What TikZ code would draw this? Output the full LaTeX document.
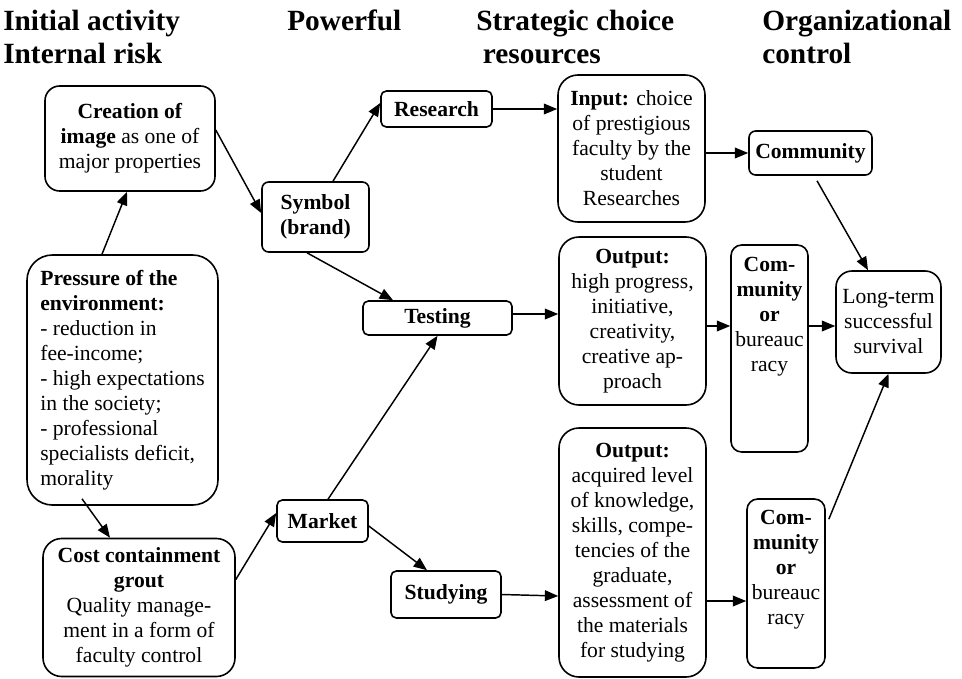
\documentclass[tikz,border=0pt]{standalone}
\usepackage{fontspec}
\setmainfont{Liberation Serif}
\usetikzlibrary{arrows.meta,calc}
\newcommand\bodyfont{\fontsize{16.2}{18.75}\selectfont}
\newcommand\headfont{\fontsize{22}{24.75}\selectfont\bfseries}
\begin{document}
\begin{tikzpicture}[x=0.75pt,y=-0.75pt,
  box/.style={draw, line width=1.2pt, inner sep=0pt, align=center, font=\bodyfont},
  head/.style={inner sep=0pt, anchor=base west, align=left, font=\headfont},
  conn/.style={line width=1.1pt, -{Triangle[length=10pt,width=8pt]}}]
\useasboundingbox (0,0) rectangle (962,678);
% headers (base anchor = baseline of the last line)
\node[head] (h1) at (3,63) {Initial activity\\Internal risk};
\node[head] (h2) at (287,30) {Powerful};
\node[head] (h3) at (476,63) {Strategic choice\\\hspace*{5pt}resources};
\node[head] (h4) at (762,63) {Organizational\\control};
% boxes
\node[box, rounded corners=11pt, minimum width=127.5pt, minimum height=78.75pt] (creation) at (130,138.5)
  {\textbf{Creation of}\\ \textbf{image} as one of\\ major properties};
\node[box, rounded corners=5pt, minimum width=80.25pt, minimum height=52.5pt] (symbol) at (315.5,217)
  {\textbf{Symbol}\\ \textbf{(brand)}};
\node[box, rounded corners=4pt, minimum width=83.25pt, minimum height=27pt] (research) at (436.5,109)
  {\textbf{Research}};
\node[box, rounded corners=15pt, minimum width=110.25pt, minimum height=110.25pt] (input) at (631.5,148.5)
  {\textbf{Input:} choice\\ of prestigious\\ faculty by the\\ student\\ Researches};
\node[box, rounded corners=5pt, minimum width=92.25pt, minimum height=33pt] (community) at (810.5,153)
  {\textbf{Community}};
\node[box, align=left, rounded corners=19pt, minimum width=143.25pt, minimum height=187.5pt] (pressure) at (122.5,380)
  {\textbf{Pressure of the}\\ \textbf{environment:}\\ - reduction in\\ fee-income;\\ - high expectations\\ in the society;\\ - professional\\ specialists deficit,\\ morality};
\node[box, rounded corners=4pt, minimum width=111.75pt, minimum height=25.5pt] (testing) at (437.5,318)
  {\textbf{Testing}};
\node[box, rounded corners=14pt, minimum width=144pt, minimum height=103.5pt] (cost) at (139,607.5)
  {\textbf{Cost containment}\\ \textbf{grout}\\ Quality manage-\\ ment in a form of\\ faculty control};
\node[box, rounded corners=4pt, minimum width=68.25pt, minimum height=31.5pt] (market) at (322.5,521)
  {\textbf{Market}};
\node[box, rounded corners=4pt, minimum width=82.5pt, minimum height=35.25pt] (studying) at (446,594.5)
  {\textbf{Studying}};
\node[box, rounded corners=15pt, minimum width=110.25pt, minimum height=126pt] (output1) at (632.5,321)
  {\textbf{Output:}\\ high progress,\\ initiative,\\ creativity,\\ creative ap-\\ proach};
\node[box, rounded corners=8pt, minimum width=57.75pt, minimum height=155.25pt] (com1) at (769.5,348.5)
  {\parbox[c][155pt][t]{57pt}{\vspace*{9pt}\centering\textbf{Com-}\\ \textbf{munity}\\ \textbf{or}\\ bureauc\\ racy}};
\node[box, rounded corners=12pt, minimum width=78.75pt, minimum height=76.5pt] (longterm) at (888.5,322)
  {Long-term\\ successful\\ survival};
\node[box, rounded corners=15pt, minimum width=110.25pt, minimum height=186.75pt] (output2) at (632.5,552.5)
  {\textbf{Output:}\\ acquired level\\ of knowledge,\\ skills, compe-\\ tencies of the\\ graduate,\\ assessment of\\ the materials\\ for studying};
\node[box, rounded corners=8pt, minimum width=58.5pt, minimum height=126.75pt] (com2) at (786,583.5)
  {\parbox[c][126pt][t]{58pt}{\vspace*{8pt}\centering\textbf{Com-}\\ \textbf{munity}\\ \textbf{or}\\ bureauc\\ racy}};
% connectors
\draw[conn] ($(pressure.north)+(-20.5,0)$) -- ($(creation.south)+(-3,0)$);
\draw[conn] ($(creation.east)+(0,-8.5)$) -- ($(symbol.west)+(0,-4)$);
\draw[conn] ($(symbol.north)+(17.5,0)$) -- ($(research.west)+(0,-6)$);
\draw[conn] (research.east) -- (research.east -| input.west);
\draw[conn] (input.east |- community.west) -- (community.west);
\draw[conn] ($(community.south)+(6.5,5)$) -- ($(longterm.north)+(-20.5,0)$);
\draw[conn] ($(symbol.south)+(-8.5,0)$) -- ($(testing.north)+(-44.5,0)$);
\draw[conn] ($(market.north)+(5.5,0)$) -- (testing.south);
\draw[conn] ($(cost.east)+(0,-28)$) -- ($(market.west)+(0,-8)$);
\draw[conn] ($(market.east)+(0,5)$) -- ($(studying.north)+(-19,0)$);
\draw[conn] ($(testing.east)+(0,-4)$) -- ($(testing.east -| output1.west)+(0,-4)$);
\draw[conn] ($(output1.east)+(0,5)$) -- ($(output1.east -| com1.west)+(0,5)$);
\draw[conn] ($(com1.east)+(0,-22.5)$) -- ($(longterm.west)+(0,4)$);
\draw[conn] (studying.east) -- ($(studying.east -| output2.west)+(0,1.5)$);
\draw[conn] ($(output2.east)+(0,48.5)$) -- ($(output2.east -| com2.west)+(0,48.5)$);
\draw[conn] ($(com2.north east)+(3,21)$) -- (longterm.south);
\draw[conn] ($(pressure.south)+(-40.5,-7)$) -- ($(cost.north)+(-29,0)$);
\end{tikzpicture}
\end{document}
